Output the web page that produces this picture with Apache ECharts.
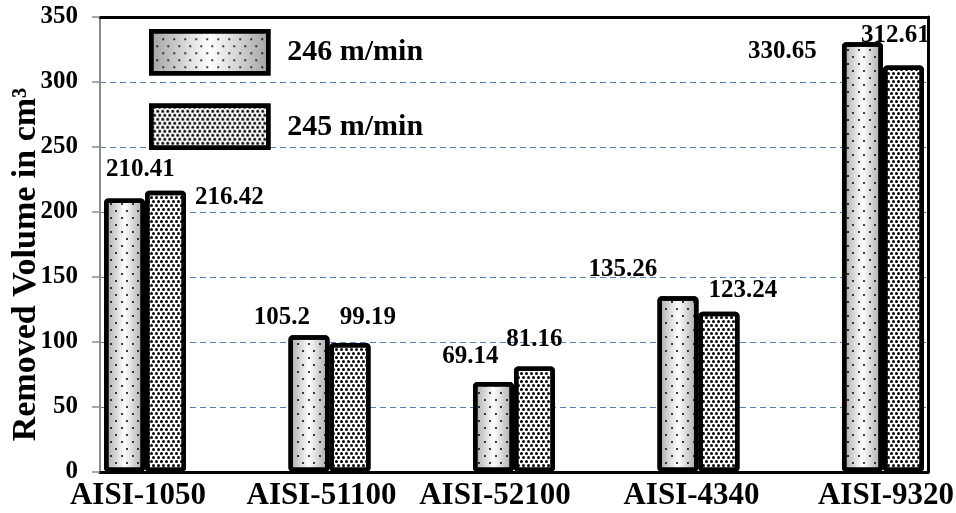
<!DOCTYPE html>
<html>
<head>
<meta charset="utf-8">
<script src="https://cdn.jsdelivr.net/npm/echarts@6/dist/echarts.min.js"></script>
<style>
html,body{margin:0;padding:0;background:#fff;}
#chart{width:956px;height:513px;}
</style>
</head>
<body>
<div id="chart"></div>
<script>
// ---- data ----
const categories = ['AISI-1050', 'AISI-51100', 'AISI-52100', 'AISI-4340', 'AISI-9320'];
const speed246 = [210.41, 105.2, 69.14, 135.26, 330.65];
const speed245 = [216.42, 99.19, 81.16, 123.24, 312.61];
const seriesNames = ['246 m/min', '245 m/min'];
const yTickValues = [0, 50, 100, 150, 200, 250, 300, 350];

// ---- layout tweaks (label placement, not data) ----
const offsets246 = [[16, -16], [-27, -5], [-23, -13], [-55, -14], [-80, 22]];
const offsets245 = [[64, 19], [18, -13], [0, -14], [24, -9], [-8, -18]];
const catShift = [-7, -8, -19, -7, 3];

const FONT = '"Liberation Serif", "Times New Roman", serif';

function buildData(vals, offs) {
  return vals.map((v, i) => ({
    value: [i, v],
    label: { offset: offs[i] }
  }));
}

const rich = {};
catShift.forEach((s, i) => {
  rich['c' + i] = {
    fontFamily: FONT, fontWeight: 'bold', fontSize: 31, color: '#000',
    padding: s < 0 ? [0, -2 * s, 0, 0] : [0, 0, 0, 2 * s]
  };
});

const labelStyle = {
  show: true,
  position: 'top',
  distance: 0,
  fontFamily: FONT,
  fontWeight: 'bold',
  fontSize: 25,
  color: '#000',
  formatter: p => String(p.value[1])
};

const chart = echarts.init(document.getElementById('chart'), null, { renderer: 'canvas' });

const option = {
  backgroundColor: '#fff',
  animation: false,
  grid: { left: 100, right: 28, top: 17, bottom: 41, containLabel: false, outerBoundsMode: 'none' },
  legend: {
    orient: 'vertical',
    left: 149,
    top: 29,
    padding: 0,
    itemWidth: 117,
    itemHeight: 42,
    itemGap: 28,
    icon: 'rect',
    data: seriesNames,
    itemStyle: { borderWidth: 4.5, borderColor: '#000' },
    textStyle: {
      fontFamily: FONT, fontWeight: 'bold', fontSize: 30, color: '#000',
      padding: [0, 0, 0, 14]
    }
  },
  xAxis: [
    {
      type: 'value',
      min: -0.2439,
      max: 4.244,
      position: 'bottom',
      axisLine: { show: true, onZero: false, lineStyle: { color: '#000', width: 3 } },
      axisTick: { show: false },
      splitLine: { show: false },
      axisLabel: {
        customValues: [0, 1, 2, 3, 4],
        margin: 8,
        fontFamily: FONT, fontWeight: 'bold', fontSize: 31, color: '#000',
        formatter: v => {
          const i = Math.round(v);
          return '{c' + i + '|' + categories[i] + '}';
        },
        rich: rich
      }
    },
    {
      type: 'value',
      min: -0.2439,
      max: 4.244,
      position: 'top',
      axisLine: { show: true, onZero: false, lineStyle: { color: '#000', width: 3 } },
      axisTick: { show: false },
      axisLabel: { show: false },
      splitLine: { show: false }
    }
  ],
  yAxis: [
    {
      type: 'value',
      position: 'left',
      min: yTickValues[0],
      max: yTickValues[yTickValues.length - 1],
      interval: 50,
      name: 'Removed Volume in cm³',
      nameLocation: 'middle',
      nameRotate: 90,
      nameGap: 57,
      nameMoveOverlap: false,
      nameTextStyle: {
        fontFamily: FONT, fontWeight: 'bold', fontSize: 34, color: '#000',
        padding: [0, 40, 0, 0]
      },
      axisLine: { show: true, onZero: false, lineStyle: { color: '#8c8c8c', width: 2 } },
      axisTick: { show: true, length: 8, lineStyle: { color: '#8c8c8c', width: 1.5 } },
      axisLabel: {
        margin: 22,
        fontFamily: FONT, fontWeight: 'bold', fontSize: 25, color: '#000'
      },
      splitLine: {
        show: true,
        lineStyle: { color: '#4f7fb5', width: 1, type: [6, 4] }
      }
    },
    {
      type: 'value',
      position: 'right',
      min: yTickValues[0],
      max: yTickValues[yTickValues.length - 1],
      interval: 50,
      axisLine: { show: true, onZero: false, lineStyle: { color: '#000', width: 3 } },
      axisTick: { show: false },
      axisLabel: { show: false },
      splitLine: { show: false }
    }
  ],
  series: [
    {
      name: seriesNames[0],
      type: 'bar',
      xAxisIndex: 0,
      yAxisIndex: 0,
      barWidth: 41,
      barGap: '0%',
      data: buildData(speed246, offsets246),
      label: labelStyle,
      itemStyle: {
        color: new echarts.graphic.LinearGradient(0, 0, 1, 0, [
          { offset: 0, color: '#a0a0a0' },
          { offset: 0.5, color: '#ffffff' },
          { offset: 1, color: '#a0a0a0' }
        ]),
        borderColor: '#000',
        borderWidth: 4.5,
        borderRadius: 2,
        decal: {
          symbol: 'circle',
          symbolSize: 1,
          color: '#000',
          dashArrayX: [[1.6, 8.4], [0, 5, 1.6, 3.4]],
          dashArrayY: [1.6, 5]
        }
      },
      z: 3
    },
    {
      name: seriesNames[1],
      type: 'bar',
      xAxisIndex: 0,
      yAxisIndex: 0,
      barWidth: 41,
      barGap: '0%',
      data: buildData(speed245, offsets245),
      label: labelStyle,
      itemStyle: {
        color: '#ffffff',
        borderColor: '#000',
        borderWidth: 4.5,
        borderRadius: 2,
        decal: {
          symbol: 'circle',
          symbolSize: 1,
          color: '#000',
          dashArrayX: [[2.2, 1.8], [0, 2, 2.2, -0.2]],
          dashArrayY: [2.2, 0.3]
        }
      },
      z: 3
    }
  ]
};

chart.setOption(option);
</script>
</body>
</html>
